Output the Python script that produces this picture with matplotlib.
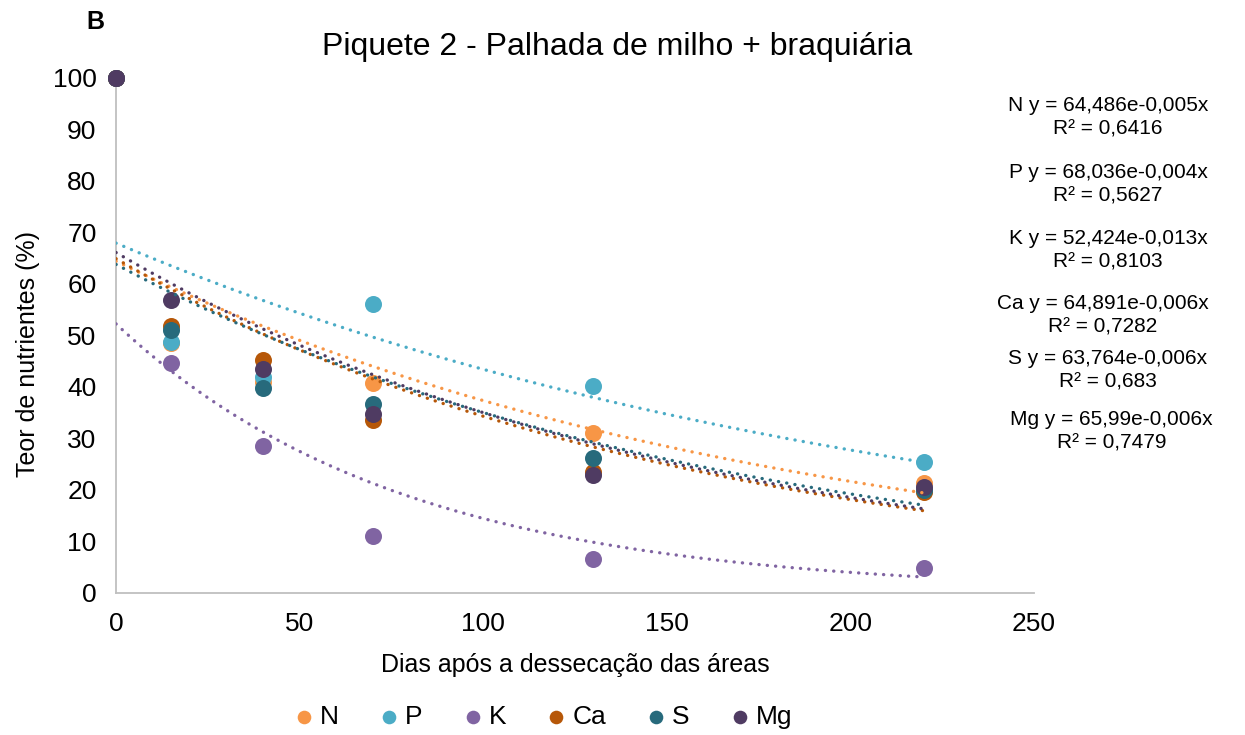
import numpy as np
import matplotlib
matplotlib.use("Agg")
import matplotlib.pyplot as plt

plt.rcParams['font.family'] = ['Liberation Sans', 'DejaVu Sans']

days = [0, 15, 40, 70, 130, 220]
series = {
    "N":  [100, 48.5, 41.0, 40.8, 31.1, 21.3],
    "P":  [100, 48.8, 42.0, 56.1, 40.2, 25.4],
    "K":  [100, 44.7, 28.5, 11.1, 6.6, 4.9],
    "Ca": [100, 51.9, 45.2, 33.5, 23.4, 19.7],
    "S":  [100, 51.0, 39.9, 36.7, 26.2, 20.0],
    "Mg": [100, 56.9, 43.5, 34.8, 23.0, 20.6],
}
colors = {"N": "#F79646", "P": "#4BACC6", "K": "#8064A2",
          "Ca": "#B65708", "S": "#276A7C", "Mg": "#4F3B62"}
equations = [
    "N y = 64,486e-0,005x\nR² = 0,6416",
    "P y = 68,036e-0,004x\nR² = 0,5627",
    "K y = 52,424e-0,013x\nR² = 0,8103",
    "Ca y = 64,891e-0,006x\nR² = 0,7282",
    "S y = 63,764e-0,006x\nR² = 0,683",
    "Mg y = 65,99e-0,006x\nR² = 0,7479",
]
eq_y = [0.840, 0.750, 0.659, 0.571, 0.496, 0.413]
eq_x = [0.890, 0.890, 0.890, 0.886, 0.890, 0.893]

fig = plt.figure(figsize=(12.45, 7.35), dpi=100)
ax = fig.add_axes([0.0932, 0.1932, 0.7373, 0.7007])

x = np.array(days, dtype=float)
for name, vals in series.items():
    ax.scatter(days, vals, s=150, color=colors[name], zorder=3, label=name,
               linewidths=0, clip_on=False)
xs = np.linspace(0, 220, 200)
for name, vals in series.items():
    b, a = np.polyfit(x, np.log(vals), 1)
    ax.plot(xs, np.exp(a) * np.exp(b * xs), color=colors[name], lw=2.4,
            linestyle=(0, (0.05, 2.45)), dash_capstyle='round', zorder=4)

ax.set_xlim(0, 250)
ax.set_ylim(0, 100)
ax.set_xticks(range(0, 251, 50))
ax.set_yticks(range(0, 101, 10))
ax.tick_params(labelsize=19, length=0)
ax.tick_params(axis="y", pad=14)
ax.tick_params(axis="x", pad=14)
for s in ["top", "right"]:
    ax.spines[s].set_visible(False)
for s in ["left", "bottom"]:
    ax.spines[s].set_color("#BFBFBF")
    ax.spines[s].set_linewidth(1.3)
ax.set_xlabel("Dias após a dessecação das áreas", fontsize=18, labelpad=12)
ax.set_ylabel("Teor de nutrientes (%)", fontsize=18)
ax.yaxis.set_label_coords(-0.096, 0.465)
ax.yaxis.label.set_va("center")

fig.text(0.4956, 0.936, "Piquete 2 - Palhada de milho + braquiária",
         fontsize=23, ha="center", va="center")
fig.text(0.077, 0.970, "B", fontsize=18, fontweight="bold", ha="center", va="center")
for t, xx, yy in zip(equations, eq_x, eq_y):
    fig.text(xx, yy, t, fontsize=15, ha="center", va="center", linespacing=1.3)

leg = ax.legend(loc="center", bbox_to_anchor=(0.465, -0.241), ncol=6,
                frameon=False, fontsize=19, handlelength=0.8, handletextpad=0.2,
                columnspacing=1.5, markerscale=0.8)

fig.savefig("out.png", dpi=100)
